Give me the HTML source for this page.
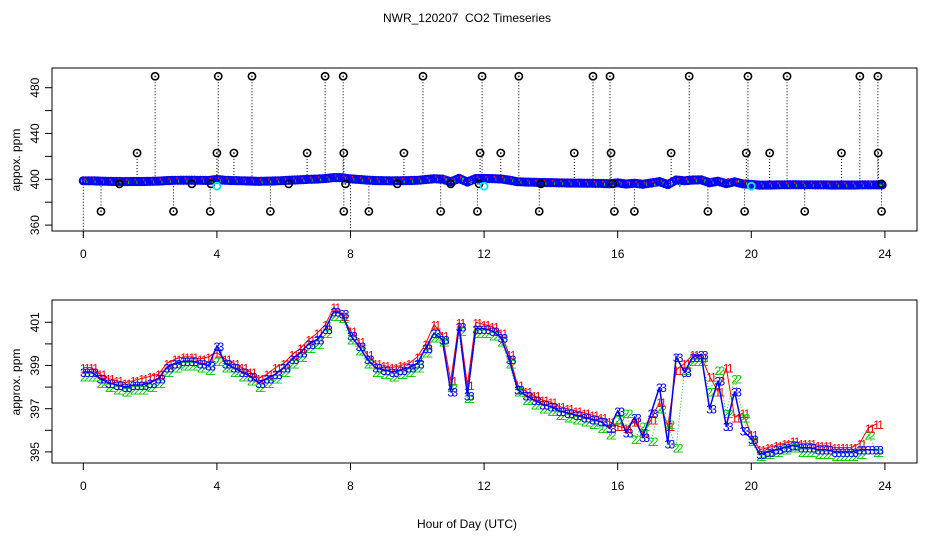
<!DOCTYPE html>
<html><head><meta charset="utf-8">
<style>
html,body{margin:0;padding:0;background:#fff;}
svg{display:block;font-family:"Liberation Sans",sans-serif;}
</style></head>
<body>
<svg id="chart" width="936" height="540" viewBox="0 0 936 540">
<text x="467" y="22" text-anchor="middle" font-size="12" xml:space="preserve">NWR_120207  CO2 Timeseries</text>
<rect x="52" y="68" width="865" height="163" fill="none" stroke="#000"/>
<rect x="52" y="300" width="865" height="163" fill="none" stroke="#000"/>
<text x="0" y="0" transform="translate(20,160) rotate(-90)" text-anchor="middle" font-size="12">appox. ppm</text>
<text x="0" y="0" transform="translate(20,382) rotate(-90)" text-anchor="middle" font-size="12">approx. ppm</text>
<text x="467" y="528" text-anchor="middle" font-size="12">Hour of Day (UTC)</text>
<g id="topPanel"></g>
<g id="botPanel"></g>
</svg>
<script>
const xTicks=[0,4,8,12,16,20,24];
const topYTicks=[360,380,400,420,440,460,480];
const topYLabels=[360,440,480,400];
const botYTicks=[395,396,397,398,399,400,401];
const botYLabels=[395,397,399,401];
const hours=[0,0.25,0.5,0.75,1,1.25,1.5,1.75,2,2.25,2.5,2.75,3,3.25,3.5,3.75,4,4.25,4.5,4.75,5,5.25,5.5,5.75,6,6.25,6.5,6.75,7,7.25,7.5,7.75,8,8.25,8.5,8.75,9,9.25,9.5,9.75,10,10.25,10.5,10.75,11,11.25,11.5,11.75,12,12.25,12.5,12.75,13,13.25,13.5,13.75,14,14.25,14.5,14.75,15,15.25,15.5,15.75,16,16.25,16.5,16.75,17,17.25,17.5,17.75,18,18.25,18.5,18.75,19,19.25,19.5,19.75,20,20.25,20.5,20.75,21,21.25,21.5,21.75,22,22.25,22.5,22.75,23,23.25,23.5,23.75];
const series3=[398.7,398.7,398.4,398.2,398.1,398.0,398.1,398.1,398.2,398.4,398.9,399.1,399.2,399.2,399.1,399.0,399.9,399.1,398.9,398.7,398.5,398.2,398.4,398.6,398.9,399.3,399.6,400.0,400.2,400.7,401.5,401.4,400.4,399.9,399.3,398.9,398.8,398.7,398.8,398.9,399.1,399.8,400.5,400.2,397.8,400.8,397.6,400.7,400.7,400.6,400.3,399.3,397.9,397.6,397.4,397.2,397.1,396.9,396.8,396.7,396.6,396.5,396.4,396.1,396.9,395.9,396.6,395.7,396.8,398.0,395.4,399.4,398.7,399.4,399.5,397.0,398.3,396.2,397.8,396.0,395.6,394.9,395.0,395.1,395.2,395.3,395.2,395.2,395.1,395.1,395.0,395.0,395.0,395.1,395.1,395.1];
const series1=[398.9,398.9,398.6,398.4,398.3,398.2,398.3,398.4,398.5,398.6,399.1,399.3,399.4,399.4,399.3,399.4,399.6,399.3,399.1,398.9,398.7,398.4,398.6,398.9,399.1,399.5,399.8,400.2,400.5,400.9,401.7,401.3,400.6,400.1,399.5,399.1,399.0,398.9,399.0,399.1,399.4,400.0,400.9,400.4,398.3,401.0,398.1,401.0,400.9,400.8,400.5,399.5,398.1,397.8,397.6,397.4,397.3,397.1,397.0,396.9,396.8,396.7,396.6,396.4,396.2,396.1,396.4,395.9,396.5,397.3,396.2,398.8,399.1,399.5,399.4,398.5,397.8,398.9,396.6,396.8,395.8,395.1,395.2,395.3,395.4,395.5,395.4,395.4,395.3,395.3,395.2,395.2,395.2,395.4,396.1,396.3];
const series2=[398.5,398.5,398.2,398.0,397.9,397.8,397.9,397.9,398.0,398.2,398.7,398.9,399.0,399.0,398.9,398.8,399.2,398.9,398.7,398.5,398.3,398.0,398.2,398.4,398.7,399.1,399.4,399.8,400.0,400.5,401.3,401.2,400.2,399.7,399.1,398.7,398.6,398.5,398.6,398.7,398.9,399.6,400.3,400.1,398.0,400.6,397.5,400.5,400.5,400.4,400.1,399.1,397.8,397.4,397.2,397.0,396.9,396.7,396.6,396.5,396.4,396.3,396.1,395.8,396.5,396.8,395.6,396.2,395.5,397.0,396.3,395.2,398.8,399.2,399.2,397.8,398.8,396.8,398.4,396.6,395.5,394.8,394.9,395.0,395.1,395.2,395.0,395.0,394.9,394.9,394.8,394.8,394.8,394.9,395.8,395.0];
const outlierHighHours=[2.15,4.04,5.05,7.24,7.78,10.17,11.94,13.04,15.26,15.77,18.14,19.9,21.07,23.25,23.79];
const outlierMidHours=[1.61,4.0,4.51,6.7,7.8,9.6,11.88,12.5,14.7,15.8,17.6,19.85,20.55,22.7,23.8];
const outlierLowHours=[0.53,2.7,3.8,5.6,7.8,8.55,10.7,11.8,13.65,15.9,16.5,18.7,19.8,21.6,23.9];
const outlierNearHours=[1.08,3.25,3.82,6.15,7.85,9.4,11.0,11.85,13.7,15.85,23.9];
const cyanHours=[4.0,12.0,20.0];
const outlierHigh=490, outlierMid=423, outlierLow=372, outlierNear=396, cyanVal=394;

const NS="http://www.w3.org/2000/svg";
function mk(parent,tag,attrs){const e=document.createElementNS(NS,tag);for(const k in attrs)e.setAttribute(k,attrs[k]);parent.appendChild(e);return e;}
const xs=h=>83.3+h*33.4;
const yTop=v=>179.3-(v-400)*(45.8/40);
const yBot=v=>322.3+(401-v)*21.6;
const topG=document.getElementById('topPanel'), botG=document.getElementById('botPanel');

[[topG,231],[botG,463]].forEach(([g,y0],pi)=>{
  const ax=mk(g,'g',{});
  
  
  xTicks.forEach(t=>{
    mk(ax,'line',{x1:xs(t),x2:xs(t),y1:y0,y2:y0+7,stroke:'#000'});
    const tx=mk(ax,'text',{x:xs(t),y:y0+27,'text-anchor':'middle','font-size':12});
    tx.textContent=t;
    
    
  });
});
const tya=mk(topG,'g',{});


topYTicks.forEach(v=>mk(tya,'line',{x1:45,x2:52,y1:yTop(v),y2:yTop(v),stroke:'#000'}));
topYLabels.forEach(v=>{const t=mk(tya,'text',{transform:`translate(39,${yTop(v)}) rotate(-90)`,'text-anchor':'middle','font-size':12});t.textContent=v;
  
  });
const bya=mk(botG,'g',{});


botYTicks.forEach(v=>mk(bya,'line',{x1:45,x2:52,y1:yBot(v),y2:yBot(v),stroke:'#000'}));
botYLabels.forEach(v=>{const t=mk(bya,'text',{transform:`translate(39,${yBot(v)}) rotate(-90)`,'text-anchor':'middle','font-size':12});t.textContent=v;
  
  });

function interp(h){for(let i=0;i<hours.length-1;i++){if(h<=hours[i+1])return series3[i]+(series3[i+1]-series3[i])*(h-hours[i])/(hours[i+1]-hours[i]);}return series3[series3.length-1];}
const drops=mk(topG,'g',{});


[[outlierHighHours,outlierHigh],[outlierMidHours,outlierMid],[outlierLowHours,outlierLow]].forEach(([hs,v])=>{
  hs.forEach(h=>mk(drops,'line',{x1:xs(h),x2:xs(h),y1:yTop(v),y2:yTop(interp(h)),stroke:'#000','stroke-width':1,'stroke-dasharray':'1,2'}));
});
mk(drops,'line',{x1:xs(0),x2:xs(0),y1:yTop(398.7),y2:238,stroke:'#000','stroke-dasharray':'1,2'});
mk(drops,'line',{x1:xs(8),x2:xs(8),y1:yTop(400),y2:238,stroke:'#000','stroke-dasharray':'1,2'});
const band=mk(topG,'g',{});


for(let i=0;i<hours.length;i++){
  for(let k=0;k<3;k++){
    const hh=hours[i]+k*0.083;
    const v=interp(Math.min(hh,23.75));
    mk(band,'circle',{cx:xs(hh),cy:yTop(v),r:3.5,fill:'none',stroke:'#0000ff','stroke-width':2.2});
  }
  mk(band,'rect',{x:xs(hours[i])+1,y:yTop(series1[i])-2.5,width:1.5,height:2,fill:'#ff0000'});
  mk(band,'rect',{x:xs(hours[i])+3,y:yTop(series2[i])-1,width:1.5,height:3,fill:'#00cc00'});
}
function outl(g,h,v){
  const c=mk(g,'g',{});
  
  
  mk(c,'circle',{cx:xs(h),cy:yTop(v),r:3.6,fill:'none',stroke:'#000','stroke-width':1.6});
  mk(c,'circle',{cx:xs(h),cy:yTop(v),r:0.8,fill:'#000'});
}
outlierHighHours.forEach(h=>outl(topG,h,outlierHigh));
outlierMidHours.forEach(h=>outl(topG,h,outlierMid));
outlierLowHours.forEach(h=>outl(topG,h,outlierLow));
outlierNearHours.forEach(h=>outl(topG,h,outlierNear));
cyanHours.forEach(h=>{const c=mk(topG,'circle',{cx:xs(h),cy:yTop(cyanVal),r:3.5,fill:'none',stroke:'#00e5ee','stroke-width':1.8});
  
  });

const defs=[[series1,'#ff0000','1','',1],[series2,'#00cc00','2','1,2',1],[series3,'#0000ff','3','',1.5]];
defs.forEach(([s,col,lab,dash,w])=>{
  const g=mk(botG,'g',{});
  
  
  const pts=hours.map((h,i)=>xs(h)+','+yBot(s[i])).join(' ');
  mk(g,'polyline',{points:pts,fill:'none',stroke:col,'stroke-width':w,'stroke-dasharray':dash});
  hours.forEach((h,i)=>{
    for(let k=0;k<2;k++){
      const t=mk(g,'text',{x:xs(h)+k*4,y:yBot(s[i])+5,'text-anchor':'middle','font-size':12,fill:col});
      t.textContent=lab;
    }
  });
});
</script>
</body></html>
